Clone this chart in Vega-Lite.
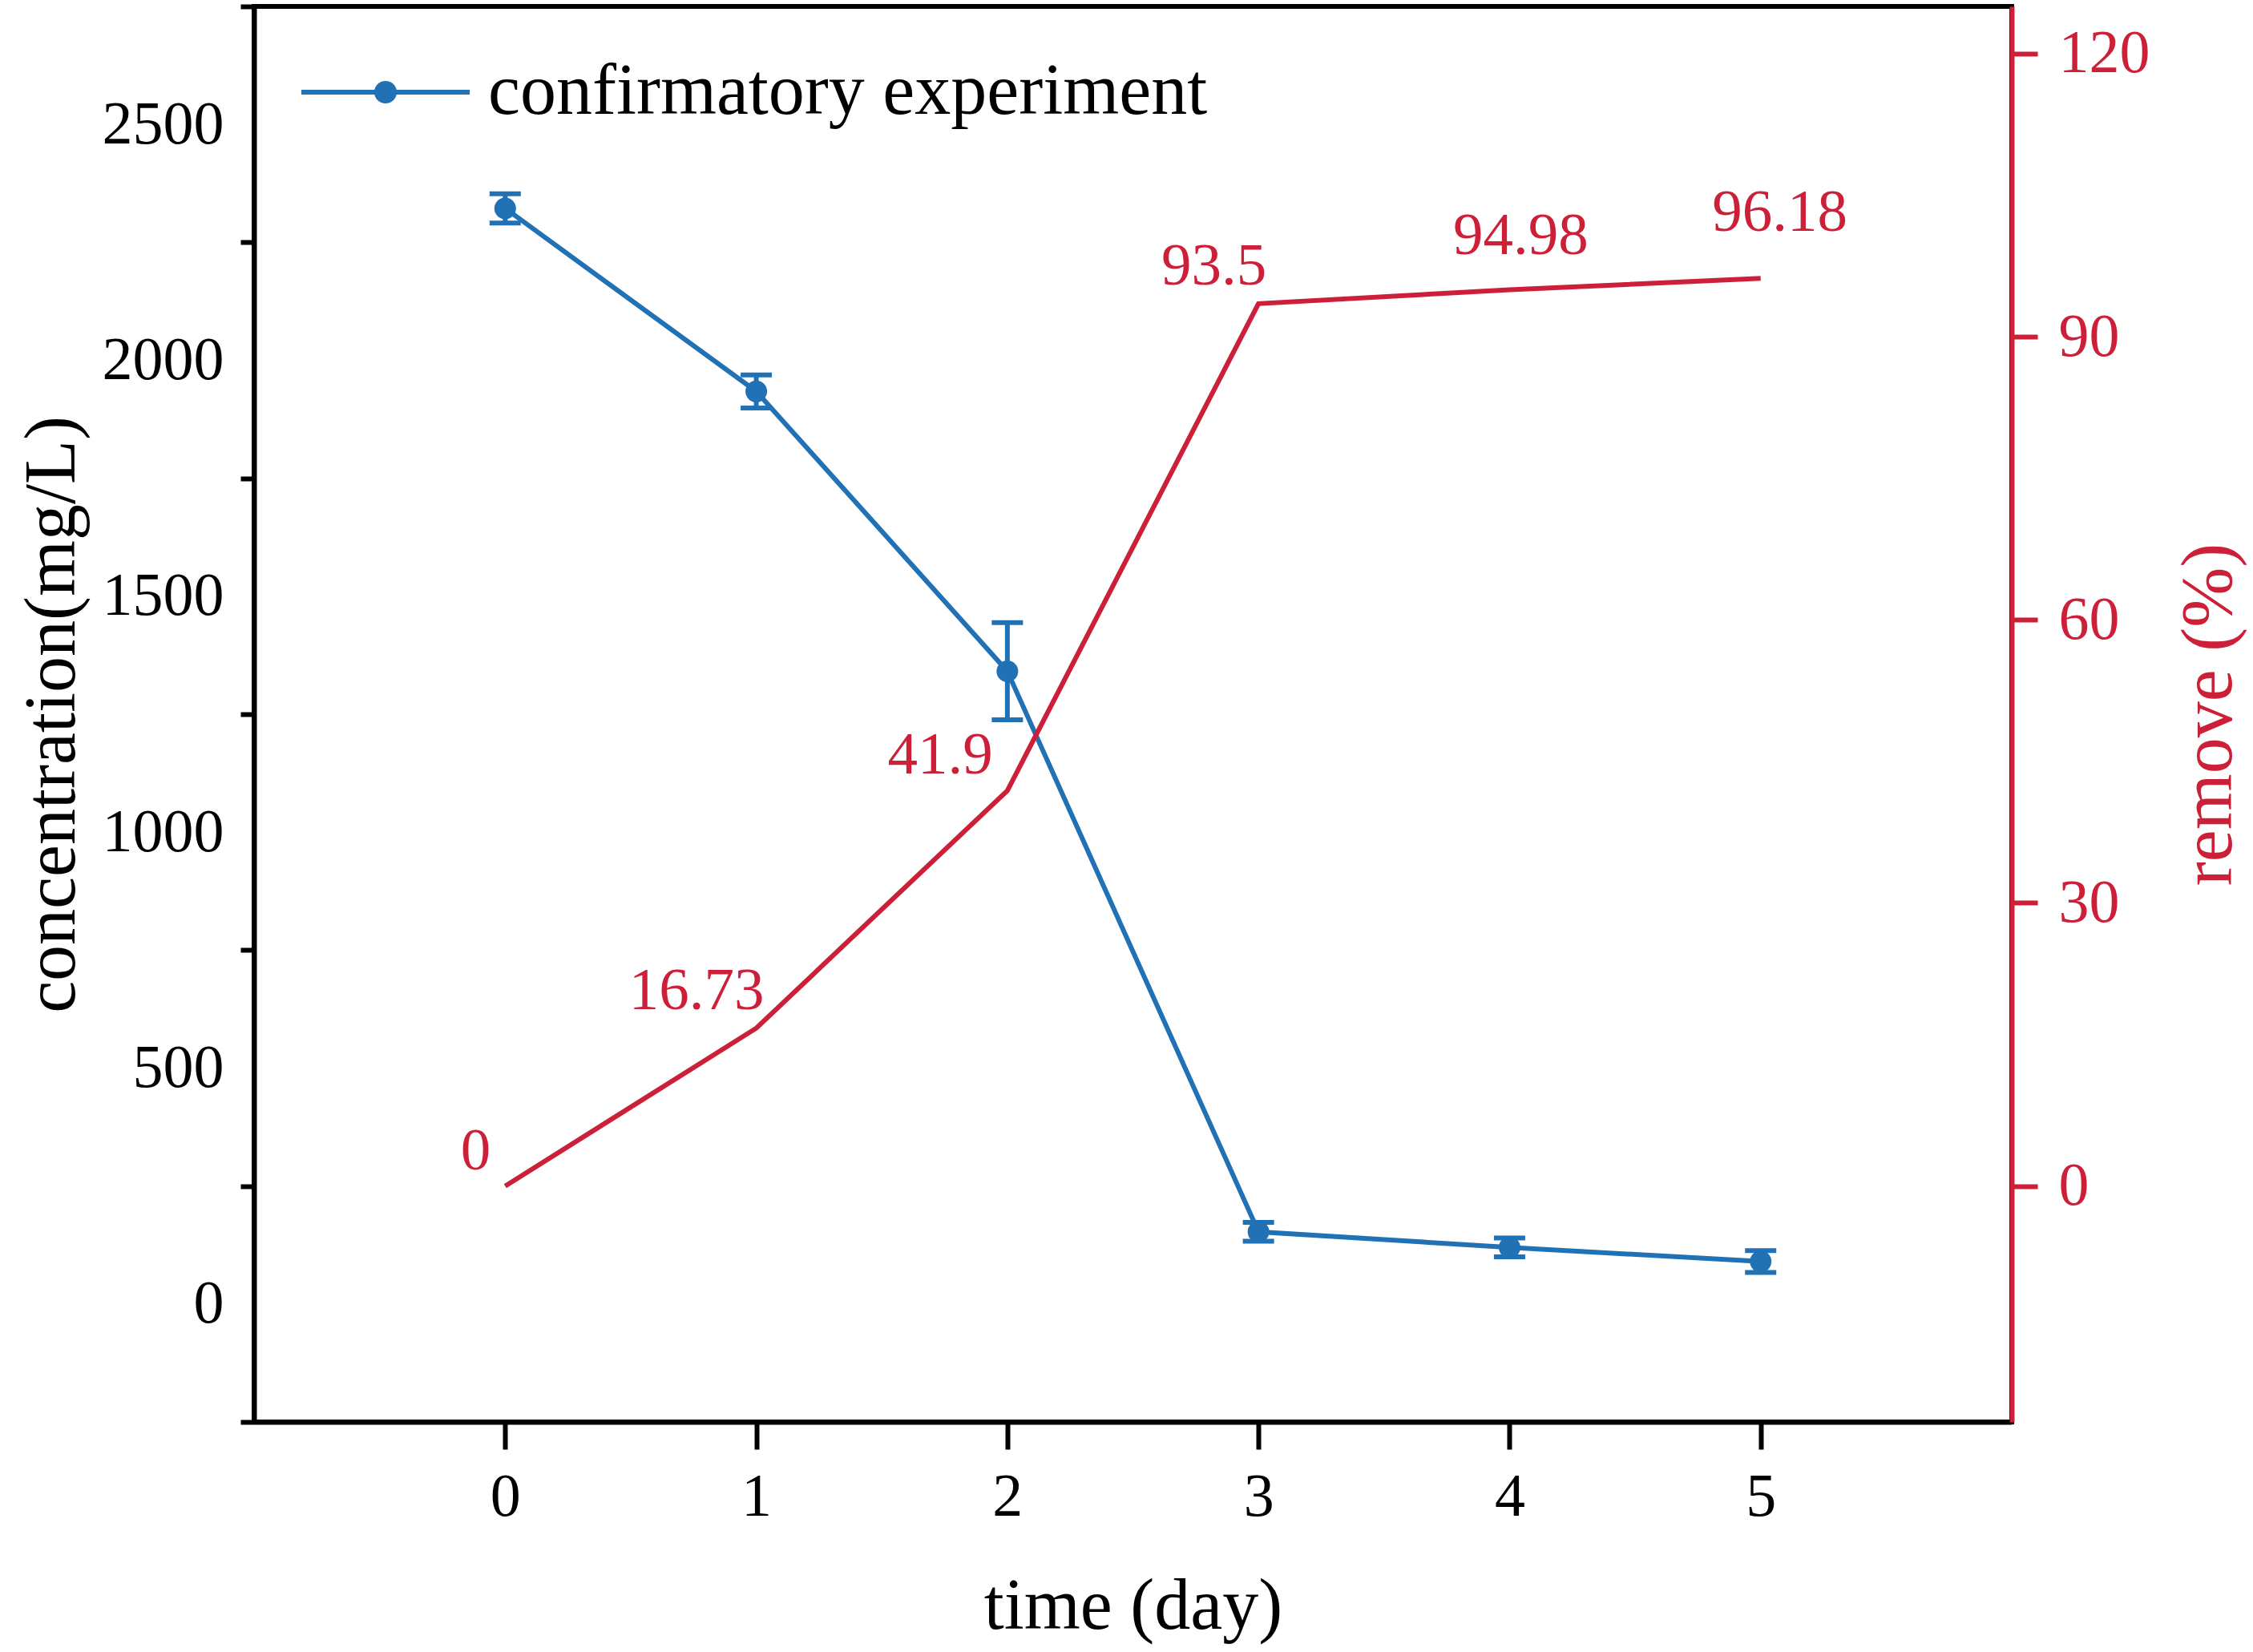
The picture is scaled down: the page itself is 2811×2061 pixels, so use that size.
{
  "$schema": "https://vega.github.io/schema/vega-lite/v6.json",
  "width": 2193,
  "height": 1766,
  "autosize": "none",
  "padding": {"left": 317, "top": 8, "right": 301, "bottom": 287},
  "background": "white",
  "config": {
    "font": "Liberation Serif",
    "view": {"stroke": "black", "strokeWidth": 6},
    "axis": {
      "grid": false,
      "labelFont": "Liberation Serif",
      "titleFont": "Liberation Serif",
      "labelFontSize": 76,
      "titleFontSize": 90,
      "titleFontWeight": "normal",
      "domainWidth": 6,
      "tickWidth": 6,
      "labelOverlap": false,
      "labelFlush": false,
      "labelBound": false
    }
  },
  "data": {
    "values": [
      {"day": 0, "conc": 2322, "err": 31, "remove": 0},
      {"day": 1, "conc": 1934, "err": 35, "remove": 16.73},
      {"day": 2, "conc": 1341, "err": 103, "remove": 41.9},
      {"day": 3, "conc": 153, "err": 20, "remove": 93.5},
      {"day": 4, "conc": 120, "err": 20, "remove": 94.98},
      {"day": 5, "conc": 90, "err": 23, "remove": 96.18}
    ]
  },
  "encoding": {
    "x": {
      "field": "day",
      "type": "quantitative",
      "scale": {"domain": [-1, 6], "nice": false, "zero": false},
      "axis": {
        "values": [0, 1, 2, 3, 4, 5],
        "title": "time (day)",
        "tickSize": 34,
        "labelPadding": 22,
        "titlePadding": 55,
        "domainColor": "black",
        "tickColor": "black",
        "labelColor": "black",
        "titleColor": "black"
      }
    }
  },
  "layer": [
    {
      "encoding": {
        "y": {
          "field": "conc",
          "type": "quantitative",
          "scale": {"domain": [-250, 2750], "nice": false, "zero": false},
          "axis": {
            "orient": "left",
            "title": "concentration(mg/L)",
            "values": [-250, 250, 750, 1250, 1750, 2250, 2750],
            "labelExpr": "datum.value < 0 ? '' : format(datum.value - 250, 'd')",
            "labelOffset": 147,
            "tickSize": 17,
            "labelPadding": 21,
            "titlePadding": 16,
            "domainColor": "black",
            "tickColor": "black",
            "labelColor": "black",
            "titleColor": "black"
          }
        }
      },
      "layer": [
        {
          "mark": {"type": "line", "strokeWidth": 6},
          "encoding": {
            "color": {
              "datum": "confirmatory experiment",
              "type": "nominal",
              "scale": {"range": ["#2171b5"]},
              "legend": {
                "orient": "none",
                "legendX": 56,
                "legendY": -1,
                "title": null,
                "padding": 0,
                "symbolType": "M-1,0H1M0.105,0A0.105,0.105 0 1,1 -0.105,0A0.105,0.105 0 1,1 0.105,0ZM0.048,0A0.048,0.048 0 1,1 -0.048,0A0.048,0.048 0 1,1 0.048,0ZM0.012,0A0.012,0.012 0 1,1 -0.012,0A0.012,0.012 0 1,1 0.012,0Z",
                "symbolSize": 44100,
                "symbolStrokeWidth": 6,
                "symbolStrokeColor": "#2171b5",
                "labelFont": "Liberation Serif",
                "labelFontSize": 90,
                "labelColor": "black",
                "labelOffset": 20,
                "labelLimit": 2000
              }
            }
          }
        },
        {
          "mark": {"type": "errorbar", "ticks": true, "size": 39, "thickness": 6, "color": "#2171b5", "opacity": 1},
          "encoding": {"yError": {"field": "err"}}
        },
        {
          "mark": {"type": "circle", "size": 729, "opacity": 1, "color": "#2171b5"}
        }
      ]
    },
    {
      "encoding": {
        "y": {
          "field": "remove",
          "type": "quantitative",
          "scale": {"domain": [-25, 125], "nice": false, "zero": false},
          "axis": {
            "orient": "right",
            "title": "remove (%)",
            "values": [0, 30, 60, 90, 120],
            "tickSize": 32,
            "labelPadding": 26,
            "titlePadding": 30,
            "titleAngle": 270,
            "titleBaseline": "top",
            "domainColor": "#cc2039",
            "tickColor": "#cc2039",
            "labelColor": "#cc2039",
            "titleColor": "#cc2039"
          }
        }
      },
      "layer": [
        {
          "mark": {"type": "line", "color": "#cc2039", "strokeWidth": 6}
        },
        {
          "transform": [{"filter": "datum.day == 0 || datum.day == 2"}],
          "mark": {"type": "text", "color": "#cc2039", "fontSize": 75, "align": "right", "baseline": "alphabetic", "dx": -18, "dy": -21},
          "encoding": {"text": {"field": "remove", "type": "quantitative", "format": ".4~g"}}
        },
        {
          "transform": [{"filter": "datum.day == 1 || datum.day == 3"}],
          "mark": {"type": "text", "color": "#cc2039", "fontSize": 75, "align": "right", "baseline": "alphabetic", "dx": 10, "dy": -24},
          "encoding": {"text": {"field": "remove", "type": "quantitative", "format": ".4~g"}}
        },
        {
          "transform": [{"filter": "datum.day == 4"}],
          "mark": {"type": "text", "color": "#cc2039", "fontSize": 75, "align": "center", "baseline": "alphabetic", "dx": 14, "dy": -44},
          "encoding": {"text": {"field": "remove", "type": "quantitative", "format": ".4~g"}}
        },
        {
          "transform": [{"filter": "datum.day == 5"}],
          "mark": {"type": "text", "color": "#cc2039", "fontSize": 75, "align": "center", "baseline": "alphabetic", "dx": 24, "dy": -59},
          "encoding": {"text": {"field": "remove", "type": "quantitative", "format": ".4~g"}}
        }
      ]
    }
  ],
  "resolve": {"scale": {"y": "independent"}}
}
